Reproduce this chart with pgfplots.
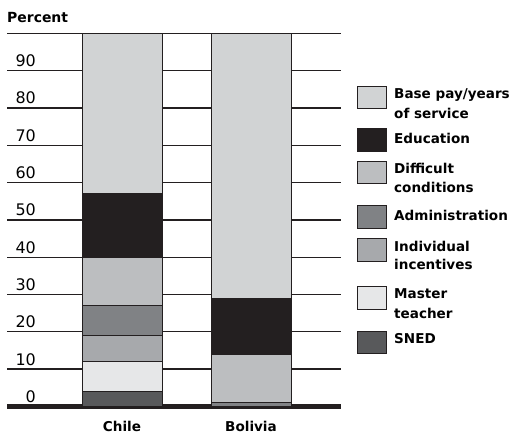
\documentclass[border=0pt]{standalone}
\usepackage{fontspec}
\setmainfont{DejaVu Sans}
\usepackage{pgfplots}
\pgfplotsset{compat=1.18}
\definecolor{basepay}{HTML}{D1D3D4}
\definecolor{educ}{HTML}{231F20}
\definecolor{diff}{HTML}{BCBEC0}
\definecolor{admin}{HTML}{808285}
\definecolor{indiv}{HTML}{A7A9AC}
\definecolor{master}{HTML}{E6E7E8}
\definecolor{sned}{HTML}{58595B}
\definecolor{ink}{HTML}{231F20}
\begin{document}
\begin{tikzpicture}[x=1bp,y=1bp]
\useasboundingbox (0,0) rectangle (516,435);
\begin{axis}[
  at={(7bp,28.6bp)}, anchor=south west,
  scale only axis, width=334bp, height=373bp,
  xmin=7, xmax=341, ymin=0, ymax=100,
  axis line style={draw=none},
  ybar stacked, bar width=80,
  xtick={122,251}, xticklabels={Chile,Bolivia},
  ytick={0,10,...,100}, yticklabels={0,10,20,30,40,50,60,70,80,90,{}},
  ymajorgrids, grid style={ink, line width=1.3bp},
  major tick length=0pt, tick style={draw=none},
  yticklabel style={anchor=base east, inner sep=0pt, xshift=29bp, yshift=4bp, font=\fontsize{16}{19}\selectfont},
  xticklabel style={anchor=base, inner sep=0pt, yshift=-25.3bp, font=\bfseries\fontsize{13.6}{16}\selectfont},
  /pgf/number format/assume math mode=true,
  every axis plot/.append style={draw=ink, line width=1bp},
  clip=false,
]
\addplot[fill=sned] coordinates {(122,4) (251,0)};
\addplot[fill=master] coordinates {(122,8) (251,0)};
\addplot[fill=indiv] coordinates {(122,7) (251,0)};
\addplot[fill=admin] coordinates {(122,8) (251,1)};
\addplot[fill=diff] coordinates {(122,13) (251,13)};
\addplot[fill=educ] coordinates {(122,17) (251,15)};
\addplot[fill=basepay] coordinates {(122,43) (251,71)};
\draw[ink, line width=4.7bp] (axis cs:7,0) -- (axis cs:341,0);
\end{axis}
\node[anchor=base west, inner sep=0pt, font=\bfseries\fontsize{14}{16}\selectfont] at (7,412.3) {Percent};
\begin{scope}[every node/.style={anchor=base west, inner sep=0pt, font=\bfseries\fontsize{13.6}{16}\selectfont}]
\filldraw[fill=basepay, draw=ink, line width=0.8bp] (357,349) rectangle (386,326.5);
\node at (394,336.7) {Base pay/years};
\node at (394,316.7) {of service};
\filldraw[fill=educ, draw=ink, line width=0.8bp] (357,306.7) rectangle (386,283.3);
\node at (394,291.7) {Education};
\filldraw[fill=diff, draw=ink, line width=0.8bp] (357,274) rectangle (386,251.7);
\node at (394,261.7) {Difficult};
\node at (394,242.7) {conditions};
\filldraw[fill=admin, draw=ink, line width=0.8bp] (357,229.3) rectangle (386,206.7);
\node at (394,214.3) {Administration};
\filldraw[fill=indiv, draw=ink, line width=0.8bp] (357,196.7) rectangle (386,174);
\node at (394,183.3) {Individual};
\node at (394,165) {incentives};
\filldraw[fill=master, draw=ink, line width=0.8bp] (357,149) rectangle (386,126);
\node at (394,136.7) {Master};
\node at (394,116.7) {teacher};
\filldraw[fill=sned, draw=ink, line width=0.8bp] (357,104) rectangle (386,82);
\node at (394,91.7) {SNED};
\end{scope}
\end{tikzpicture}
\end{document}
